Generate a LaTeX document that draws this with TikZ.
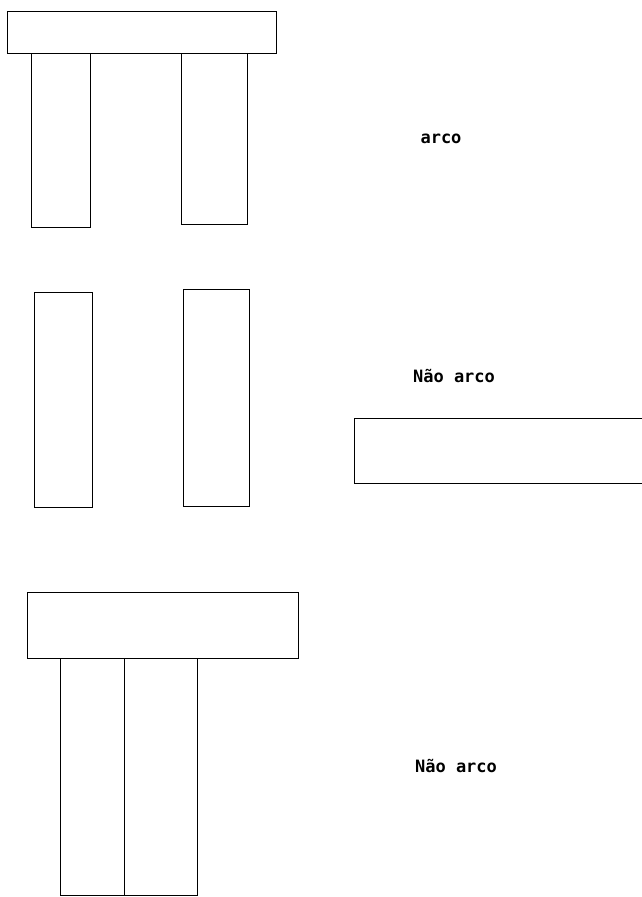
\documentclass[tikz,border=0pt]{standalone}
\usepackage{fontspec}
\setmonofont{DejaVu Sans Mono}
\usepackage{tikz}
\usetikzlibrary{positioning}

\tikzset{
    block/.style={draw=black,line width=1pt},
    caption/.style={inner sep=0pt,font=\ttfamily\bfseries\fontsize{17}{20}\selectfont}
}

\begin{document}
\begin{tikzpicture}[x=1pt,y=-1pt]
\useasboundingbox (0,0) rectangle (642,897);
\begin{scope}
    % arco
    \draw[block] (7,11) rectangle (276,53);
    \draw[block] (31,53) rectangle (90,227);
    \draw[block] (181,53) rectangle (247,224);
    \node (arco) at (441,139) [caption] {arco};
\end{scope}

\begin{scope}
    % columns apart, slab aside
    \draw[block] (34,292) rectangle (92,507);
    \draw[block] (183,289) rectangle (249,506);
    \draw[block] (642,418) -- (354,418) -- (354,483) -- (642,483);
    \node (naoarcoA) at (454,376) [caption] {Não arco};
\end{scope}

\begin{scope}
    % columns touching
    \draw[block] (27,592) rectangle (298,658);
    \draw[block] (60,658) rectangle (124,895);
    \draw[block] (124,658) rectangle (197,895);
    \node (naoarcoB) at (456,766) [caption] {Não arco};
\end{scope}
\end{tikzpicture}
\end{document}
